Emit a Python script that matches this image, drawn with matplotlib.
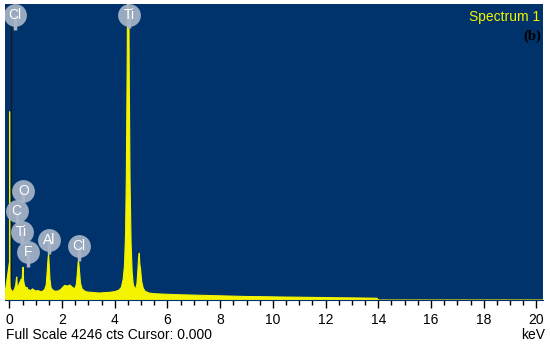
import matplotlib.pyplot as plt
from matplotlib.ticker import MultipleLocator

plt.rcParams['font.family'] = ['Liberation Sans', 'DejaVu Sans']

# EDS spectrum (keV, counts)
energy = [-0.2, 0.0, 0.005, 0.01, 0.02, 0.03, 0.05, 0.08, 0.12, 0.16, 0.2, 0.24, 0.27, 0.28, 0.3,
          0.34, 0.38, 0.42, 0.45, 0.48, 0.5, 0.52, 0.54, 0.57, 0.6, 0.64, 0.67, 0.68, 0.7,
          0.74, 0.8, 0.88, 0.95, 1.02, 1.1, 1.18, 1.26, 1.34, 1.4, 1.44, 1.47, 1.49, 1.51,
          1.54, 1.58, 1.65, 1.75, 1.85, 1.95, 2.02, 2.1, 2.2, 2.3, 2.4, 2.48, 2.54, 2.58,
          2.61, 2.63, 2.66, 2.7, 2.76, 2.85, 2.95, 3.1, 3.25, 3.4, 3.6, 3.8, 4.0, 4.15,
          4.25, 4.32, 4.37, 4.41, 4.44, 4.47, 4.49, 4.51, 4.53, 4.55, 4.58, 4.62, 4.66,
          4.7, 4.75, 4.8, 4.84, 4.87, 4.9, 4.93, 4.95, 4.98, 5.02, 5.08, 5.15, 5.3, 5.5,
          5.8, 6.1, 6.5, 7.0, 7.5, 8.0, 8.5, 9.0, 9.5, 10.0, 10.5, 11.0, 11.5, 12.0, 12.5,
          13.0, 13.5, 13.95, 14.0, 20.5]
counts = [0, 530, 120, 2700, 300, 180, 160, 140, 120, 130, 160, 210, 310, 330, 200,
          190, 240, 270, 300, 260, 390, 470, 280, 220, 190, 170, 180, 170, 140,
          150, 130, 160, 140, 130, 135, 120, 125, 150, 220, 430, 600, 660, 520,
          300, 180, 140, 125, 130, 150, 180, 210, 200, 215, 180, 160, 220, 380,
          540, 560, 420, 240, 160, 130, 115, 110, 105, 100, 105, 110, 120, 140,
          180, 300, 500, 950, 1800, 3300, 4600, 5200, 4700, 3200, 1700, 800, 400,
          230, 170, 170, 230, 380, 580, 670, 520, 440, 270, 170, 125, 100, 90,
          85, 80, 75, 70, 65, 60, 55, 50, 48, 45, 42, 40, 37, 35, 32,
          30, 28, 25, 0, 0]

# element markers: symbol, energy (keV), label height (counts), stem bottom (counts)
labels = ['Cl', 'Ti', 'O', 'C', 'Ti', 'F', 'Al', 'Cl']
label_e = [0.22, 4.54, 0.53, 0.28, 0.47, 0.70, 1.51, 2.65]
label_y = [4090, 4090, 1560, 1270, 980, 690, 860, 770]
stem_y = [3870, 3900, 1400, 1100, 800, 470, 660, 560]

bg = '#00336b'
fig = plt.figure(figsize=(5.5, 3.51), dpi=100)
ax = fig.add_axes([5 / 550, 51 / 351, 538 / 550, 296 / 351])
ax.set_facecolor(bg)

ax.axvline(0.05, color='#151a22', lw=1, zorder=1)
ax.fill_between(energy, counts, 0, color='#f4f400', lw=0, zorder=2)
ax.plot(energy, counts, color='#f4f400', lw=0.8, zorder=3)

for e, y0, y1 in zip(label_e, label_y, stem_y):
    ax.plot([e, e], [y1, y0], color='#a7b4c8', lw=2.5, zorder=4, solid_capstyle='butt')
ax.scatter(label_e, label_y, s=270, color='#a7b4c8', alpha=0.92, lw=0, zorder=5)
for lab, e, y in zip(labels, label_e, label_y):
    ax.text(e, y, lab, color='white', fontsize=10, ha='center', va='center', zorder=6)

ax.set_xlim(-0.165, 20.25)
ax.set_ylim(0, 4246)
ax.xaxis.set_major_locator(MultipleLocator(2))
ax.xaxis.set_minor_locator(MultipleLocator(0.5))
ax.tick_params(axis='x', which='major', length=6, width=1, direction='out', labelsize=10, pad=3)
ax.tick_params(axis='x', which='minor', length=3.5, width=1, direction='out')
ax.set_yticks([])
for s in ['left', 'right', 'top']:
    ax.spines[s].set_visible(False)
ax.spines['bottom'].set_color(bg)

ax.text(0.994, 0.98, 'Spectrum 1', transform=ax.transAxes, color='#f4f400',
        fontsize=10, ha='right', va='top')
ax.text(0.997, 0.915, '(b)', transform=ax.transAxes, color='black',
        fontsize=10.5, fontweight='bold', family='Liberation Serif', ha='right', va='top')

fig.text(6 / 550, 1 - 335 / 351, 'Full Scale 4246 cts Cursor: 0.000', fontsize=10,
         ha='left', va='center')
fig.text(545 / 550, 1 - 335 / 351, 'keV', fontsize=10, ha='right', va='center')

fig.savefig('out.png', dpi=100)
